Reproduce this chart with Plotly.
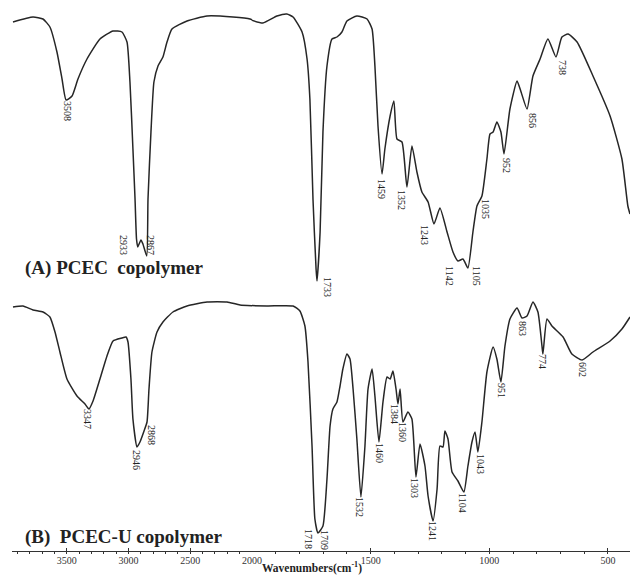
import numpy as np
import plotly.graph_objects as go

# ---------------- data (wavenumber in cm-1, transmittance in arbitrary units) -------------
wn_a = [3935, 3773, 3692, 3636, 3579, 3538, 3505, 3457, 3409, 3336, 3231, 3125, 3053, 3012,
        2988, 2964, 2947, 2935, 2925, 2899, 2883, 2852, 2842, 2818, 2794, 2761, 2721, 2688,
        2648, 2526, 2364, 2154, 2016, 1954, 1895, 1853, 1827, 1789, 1768, 1756, 1743, 1730,
        1726, 1713, 1701, 1684, 1663, 1642, 1621, 1600, 1558, 1515, 1494, 1482, 1469, 1452,
        1440, 1418, 1402, 1389, 1368, 1347, 1326, 1305, 1284, 1258, 1233, 1208, 1178, 1153,
        1132, 1111, 1090, 1069, 1052, 1031, 1010, 997, 984, 968, 951, 938, 913, 883, 866, 841,
        816, 786, 753, 719, 694, 668, 630, 563, 491, 441, 416, 407]
t_a = [529, 534, 532, 524, 499, 472, 451, 455, 472, 492, 512, 520, 519, 509,
       469, 402, 352, 312, 304, 311, 307, 295, 352, 419, 469, 485, 494, 509,
       522, 530, 535, 534, 532, 528, 535, 537, 534, 519, 492, 452, 352, 282,
       270, 319, 419, 485, 512, 514, 519, 530, 535, 532, 522, 485, 425, 377,
       402, 435, 450, 412, 409, 364, 405, 379, 359, 349, 327, 343, 319, 299,
       290, 292, 283, 319, 345, 355, 392, 417, 419, 429, 419, 397, 442, 470, 459, 442,
       475, 492, 512, 494, 514, 517, 509, 475, 435, 392, 345, 337]

wn_b = [3935, 3854, 3773, 3692, 3636, 3595, 3555, 3498, 3417, 3352, 3320, 3287, 3231, 3174,
        3125, 3053, 3020, 3004, 2980, 2964, 2931, 2907, 2874, 2850, 2834, 2810, 2769, 2721,
        2640, 2526, 2364, 2202, 2097, 1937, 1827, 1798, 1777, 1764, 1747, 1735, 1722, 1701,
        1684, 1671, 1659, 1642, 1629, 1617, 1600, 1587, 1574, 1558, 1541, 1524, 1511, 1494,
        1482, 1465, 1448, 1431, 1418, 1406, 1393, 1385, 1376, 1364, 1343, 1326, 1309, 1292,
        1271, 1258, 1237, 1220, 1208, 1195, 1187, 1174, 1157, 1132, 1107, 1090, 1073, 1060,
        1048, 1031, 1010, 984, 968, 951, 934, 913, 883, 862, 841, 816, 795, 778, 774, 757,
        736, 689, 652, 609, 563, 491, 441, 407]
t_b = [244, 245, 241, 239, 234, 219, 199, 172, 155, 147, 142, 150, 172, 195,
       210, 213, 214, 209, 172, 132, 104, 109, 120, 129, 162, 199, 219, 229,
       239, 245, 249, 249, 246, 245, 245, 240, 225, 189, 105, 32, 18, 25,
       72, 125, 142, 149, 165, 182, 197, 192, 162, 112, 54, 105, 162, 182,
       155, 109, 149, 174, 172, 180, 162, 147, 162, 129, 139, 132, 74, 107,
       85, 55, 30, 62, 105, 104, 120, 112, 79, 70, 59, 85, 109, 119,
       99, 129, 179, 204, 192, 169, 205, 232, 243, 233, 235, 249, 239, 205, 197, 232,
       225, 214, 197, 191, 199, 210, 222, 234]

peaks_a = ["3508", "2933", "2867", "1733", "1459", "1352", "1243", "1142", "1105",
           "1035", "952", "856", "738"]
peaks_a_wn = [3490, 3036, 2818, 1680, 1452, 1368, 1271, 1166, 1052, 1014, 925, 816, 689]
peaks_a_t = [440, 306, 306, 264, 362, 351, 316, 275, 275, 342, 386, 430, 484]

peaks_b = ["3347", "2946", "2868", "1718", "1709", "1532", "1460", "1384", "1360", "1303",
           "1241", "1104", "1043", "951", "863", "774", "602"]
peaks_b_wn = [3328, 2931, 2810, 1760, 1692, 1545, 1461, 1397, 1364, 1313, 1237, 1111,
              1035, 946, 858, 774, 605]
peaks_b_t = [132, 91, 116, 12, 11, 44, 98, 137, 119, 63, 20, 48, 87, 161, 222, 189, 182]

major_ticks_left = [3500, 3000, 2500]
major_ticks_right = [2000, 1500, 1000, 500]
x_title = "Wavenumbers(cm<sup>-1</sup>)"
label_a = "(A) PCEC  copolymer"
label_b = "(B)  PCEC-U copolymer"

BREAK = 2000
LEFT_RANGE = [3943, BREAK]
RIGHT_RANGE = [BREAK, 407]
LINE = "#262626"
SERIF = "Liberation Serif"

fig = go.Figure()


def split(wn, t):
    wn = np.asarray(wn, float)
    t = np.asarray(t, float)
    hi = np.where(wn >= BREAK)[0]
    lo = np.where(wn < BREAK)[0]
    left_idx = np.arange(0, min(hi.max() + 2, len(wn)))
    right_idx = np.arange(max(lo.min() - 1, 0), len(wn))
    return (wn[left_idx], t[left_idx]), (wn[right_idx], t[right_idx])


for wn, t in [(wn_a, t_a), (wn_b, t_b)]:
    (lx, ly), (rx, ry) = split(wn, t)
    line = dict(color=LINE, width=1.5, shape="spline", smoothing=0.5)
    fig.add_trace(go.Scatter(x=lx, y=ly, mode="lines", line=line, xaxis="x", yaxis="y",
                             showlegend=False, hoverinfo="skip"))
    fig.add_trace(go.Scatter(x=rx, y=ry, mode="lines", line=line, xaxis="x2", yaxis="y",
                             showlegend=False, hoverinfo="skip"))

annotations = []
for labels, xs, ys in [(peaks_a, peaks_a_wn, peaks_a_t), (peaks_b, peaks_b_wn, peaks_b_t)]:
    for lab, x, y in zip(labels, xs, ys):
        annotations.append(dict(
            text=lab, x=x, y=y, xref="x" if x > BREAK else "x2", yref="y",
            showarrow=False, textangle=90, xanchor="center", yanchor="middle",
            font=dict(family=SERIF, size=10, color="#222")))

for txt, yv in [(label_a, 283), (label_b, 14)]:
    annotations.append(dict(
        text="<b>" + txt + "</b>", x=0.017, y=yv, xref="paper", yref="y",
        showarrow=False, xanchor="left", yanchor="middle",
        font=dict(family=SERIF, size=19, color="#222")))

annotations.append(dict(
    text="<b>" + x_title + "</b>", x=0.485, y=0, xref="paper", yref="paper",
    yshift=-16.5, showarrow=False, xanchor="center", yanchor="middle",
    font=dict(family=SERIF, size=11.5, color="#222")))

axis_common = dict(
    showline=True, linecolor="#333", linewidth=1.2, showgrid=False, zeroline=False,
    ticks="inside", ticklen=3, tickwidth=1.3, tickcolor="#333",
    tickfont=dict(family=SERIF, size=10, color="#333"),
    minor=dict(ticks="outside", ticklen=2, tickwidth=1.2, tickcolor="#333",
               dtick=100, tick0=0, showgrid=False),
    fixedrange=True,
)
split_frac = (252 - 12) / 618

fig.update_layout(
    width=630, height=575,
    margin=dict(l=12, r=0, t=0, b=24),
    paper_bgcolor="white", plot_bgcolor="white",
    xaxis=dict(domain=[0, split_frac], range=LEFT_RANGE, tickmode="array",
               tickvals=major_ticks_left, anchor="y", **axis_common),
    xaxis2=dict(domain=[split_frac, 1], range=RIGHT_RANGE, tickmode="array",
                tickvals=major_ticks_right, anchor="y", **axis_common),
    yaxis=dict(range=[0, 551], visible=False, fixedrange=True),
    annotations=annotations,
)

fig.write_html("out.html", config={"displayModeBar": False},
               post_script="document.body.style.margin='0px';document.body.style.overflow='hidden';")
